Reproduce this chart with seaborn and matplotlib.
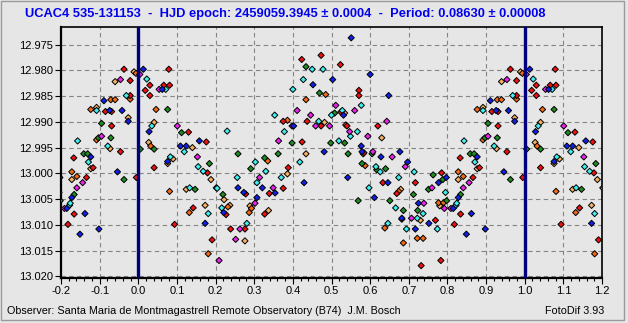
import matplotlib
matplotlib.use("Agg")
import matplotlib.pyplot as plt
import numpy as np
import pandas as pd
import seaborn as sns
from matplotlib import font_manager
from matplotlib.ticker import MultipleLocator, FormatStrFormatter
from matplotlib.patches import Rectangle

# ---- phased photometry, one series per observing night (phase 0..1, magnitude) ----
red_phase = [0.079, 0.030, 0.018, 0.030, 0.066, 0.081, 0.130, 0.176, 0.041, 0.995, 0.179, 0.142,
             0.227, 0.094, 0.239, 0.191, 0.423, 0.473, 0.375, 0.437, 0.473, 0.424, 0.388, 0.375,
             0.278, 0.339, 0.327, 0.276, 0.523, 0.571, 0.571, 0.524, 0.540, 0.620, 0.584, 0.633,
             0.717, 0.669, 0.732, 0.963, 0.979, 0.979, 0.915, 0.931, 0.931, 0.954, 0.833, 0.883,
             0.785, 0.866, 0.834, 0.769, 0.818, 0.783]
red_mag = [12.9798, 12.9829, 12.9839, 12.9849, 12.9829, 12.9829, 12.9920, 12.9939, 12.9989, 13.0008,
           12.9999, 13.0067, 13.0080, 13.0099, 13.0108, 13.0129, 12.9779, 12.9771, 12.9899, 12.9899,
           12.9908, 12.9939, 12.9989, 13.0029, 13.0040, 13.0039, 13.0079, 13.0108, 12.9789, 12.9839,
           12.9849, 12.9881, 12.9908, 12.9908, 12.9960, 13.0018, 13.0018, 13.0039, 13.0179, 12.9798,
           12.9820, 12.9849, 12.9880, 12.9880, 12.9908, 12.9958, 12.9970, 12.9989, 12.9999, 13.0008,
           13.0079, 13.0091, 13.0099, 13.0169]

cyan_phase = [0.022, 0.071, 0.035, 0.230, 0.119, 0.083, 0.155, 0.168, 0.202, 0.204, 0.133, 0.181,
              0.216, 0.450, 0.478, 0.427, 0.400, 0.353, 0.467, 0.378, 0.303, 0.418, 0.330, 0.256,
              0.370, 0.307, 0.281, 0.577, 0.500, 0.528, 0.567, 0.549, 0.519, 0.615, 0.626, 0.714,
              0.674, 0.597, 0.666, 0.737, 0.722, 0.646, 0.694, 0.969, 0.892, 0.843, 0.921, 0.871,
              0.795, 0.822, 0.824, 0.774]
cyan_mag = [12.9817, 12.9837, 12.9908, 12.9918, 12.9958, 12.9968, 12.9987, 12.9996, 13.0028, 13.0029,
            13.0028, 13.0078, 13.0067, 12.9798, 12.9798, 12.9818, 12.9837, 12.9887, 12.9899, 12.9919,
            12.9978, 12.9978, 12.9996, 13.0008, 13.0008, 13.0018, 13.0097, 12.9868, 12.9887, 12.9878,
            12.9919, 12.9928, 12.9937, 12.9987, 12.9997, 12.9997, 13.0008, 13.0028, 13.0067, 13.0078,
            13.0087, 13.0097, 13.0108, 12.9849, 12.9878, 12.9937, 12.9947, 12.9978, 13.0037, 13.0062,
            13.0058, 13.0108]

blue_phase = [0.013, 0.062, 0.028, 0.158, 0.109, 0.124, 0.076, 0.221, 0.173, 0.452, 0.402, 0.481,
              0.429, 0.258, 0.321, 0.273, 0.354, 0.307, 0.551, 0.600, 0.503, 0.648, 0.531, 0.577,
              0.579, 0.628, 0.677, 0.697, 0.542, 0.646, 0.611, 0.725, 0.682, 0.717, 0.911, 0.926,
              0.958, 0.974, 0.877, 0.946, 0.797, 0.777, 0.828, 0.815, 0.862, 0.752, 0.849, 0.898]
blue_mag = [12.9798, 12.9837, 12.9919, 12.9937, 12.9947, 12.9947, 12.9977, 13.0076, 13.0097, 12.9828,
            12.9908, 12.9958, 13.0018, 13.0028, 13.0028, 13.0037, 13.0038, 13.0047, 12.9737, 12.9808,
            12.9818, 12.9849, 12.9887, 12.9947, 12.9958, 12.9968, 12.9958, 12.9978, 13.0008, 13.0018,
            13.0047, 13.0058, 13.0087, 13.0108, 12.9859, 12.9878, 12.9878, 12.9899, 12.9968, 12.9997,
            13.0008, 13.0018, 13.0047, 13.0068, 13.0078, 13.0097, 13.0118, 13.0108]

green_phase = [0.076, 0.112, 0.005, 0.041, 0.184, 0.147, 0.219, 0.434, 0.469, 0.398, 0.258, 0.362,
               0.327, 0.291, 0.508, 0.498, 0.534, 0.543, 0.605, 0.579, 0.617, 0.640, 0.712, 0.569,
               0.651, 0.686, 0.723, 0.905, 0.897, 0.929, 0.859, 0.869, 0.963, 0.763, 0.788, 0.751,
               0.834, 0.798]
green_mag = [12.9876, 12.9921, 12.9953, 12.9953, 12.9981, 13.0031, 13.0041, 12.9793, 12.9844, 12.9941,
             12.9962, 12.9962, 12.9970, 12.9991, 12.9883, 12.9941, 12.9941, 12.9962, 12.9962, 12.9981,
             12.9993, 12.9991, 13.0041, 13.0053, 13.0053, 13.0072, 13.0072, 12.9903, 12.9931, 12.9931,
             12.9962, 12.9962, 13.0012, 13.0003, 13.0012, 13.0031, 13.0041, 13.0053]

magenta_phase = [0.004, 0.054, 0.101, 0.153, 0.209, 0.411, 0.446, 0.398, 0.459, 0.495, 0.363, 0.314,
                 0.349, 0.302, 0.263, 0.252, 0.511, 0.560, 0.547, 0.643, 0.594, 0.607, 0.657, 0.691,
                 0.739, 0.707, 0.954, 0.905, 0.856, 0.841, 0.760, 0.792, 0.809]
magenta_mag = [12.9808, 12.9837, 12.9908, 12.9968, 13.0169, 12.9878, 12.9887, 12.9908, 12.9908, 12.9908,
               12.9937, 13.0008, 13.0028, 13.0058, 13.0108, 13.0128, 12.9868, 12.9878, 12.9919, 12.9899,
               12.9928, 12.9958, 12.9968, 12.9987, 13.0058, 13.0087, 12.9818, 12.9928, 13.0018, 13.0028,
               13.0028, 13.0068, 13.0068]

orange_phase = [0.994, 0.046, 0.032, 0.081, 0.132, 0.232, 0.181, 0.485, 0.434, 0.386, 0.335, 0.293,
                0.287, 0.537, 0.587, 0.674, 0.638, 0.686, 0.722, 0.737, 0.979, 0.929, 0.940, 0.877,
                0.892, 0.828, 0.841, 0.777, 0.790]
orange_mag = [12.9806, 12.9876, 12.9947, 13.0035, 13.0076, 13.0065, 13.0156, 12.9847, 12.9857, 12.9897,
              12.9976, 13.0068, 13.0076, 12.9906, 12.9985, 13.0035, 13.0106, 13.0135, 13.0126, 13.0126,
              12.9856, 12.9857, 12.9857, 12.9876, 12.9935, 12.9997, 13.0006, 13.0057, 13.0057]

peach_phase = [0.041, 0.027, 0.140, 0.090, 0.076, 0.188, 0.124, 0.222, 0.173, 0.237, 0.482, 0.434,
               0.386, 0.289, 0.337, 0.276, 0.534, 0.630, 0.582, 0.679, 0.682, 0.730, 0.989, 0.940,
               0.892, 0.974, 0.927, 0.877, 0.828, 0.780]
peach_mag = [12.9901, 12.9940, 12.9950, 12.9972, 12.9981, 13.0012, 13.0031, 13.0051, 13.0062, 13.0062,
             12.9901, 12.9962, 13.0001, 13.0063, 13.0072, 13.0131, 12.9883, 12.9931, 12.9962, 13.0031,
             13.0089, 13.0091, 12.9803, 12.9822, 12.9872, 12.9892, 12.9952, 12.9991, 13.0012, 13.0063]

series = {
    "peach": (peach_phase, peach_mag),
    "orange": (orange_phase, orange_mag),
    "red": (red_phase, red_mag),
    "green": (green_phase, green_mag),
    "cyan": (cyan_phase, cyan_mag),
    "magenta": (magenta_phase, magenta_mag),
    "blue": (blue_phase, blue_mag),
}
palette = {
    "peach": "#f8b060",
    "orange": "#f46a14",
    "red": "#ee1111",
    "green": "#1e8c22",
    "cyan": "#3ff0f0",
    "magenta": "#ee22ee",
    "blue": "#1020ea",
}

title = "UCAC4 535-131153  -  HJD epoch: 2459059.3945 \u00b1 0.0004  -  Period: 0.08630 \u00b1 0.00008"
footer_left = "Observer: Santa Maria de Montmagastrell Remote Observatory (B74)  J.M. Bosch"
footer_right = "FotoDif 3.93"
x_ticks = np.round(np.arange(-0.2, 1.2001, 0.1), 1)
y_ticks = np.round(np.arange(12.975, 13.0201, 0.005), 3)

# long table, each night repeated one cycle either side of the 0..1 phase window
rows = []
for night, (ph, mg) in series.items():
    for shift in (-1.0, 0.0, 1.0):
        for p, m in zip(ph, mg):
            rows.append((night, p + shift, m))
df = pd.DataFrame(rows, columns=["night", "phase", "mag"])
df = df[(df.phase >= -0.21) & (df.phase <= 1.21)]

sns.set_theme(style="white")
installed = {f.name for f in font_manager.fontManager.ttflist}
base_font = "Liberation Sans" if "Liberation Sans" in installed else "DejaVu Sans"
narrow_font = "Liberation Sans Narrow" if "Liberation Sans Narrow" in installed else base_font
plt.rcParams["font.family"] = [base_font, "DejaVu Sans"]

W, H = 628, 323
bg = "#e6e6e6"
fig = plt.figure(figsize=(W / 100, H / 100), dpi=100, facecolor=bg)
ax = fig.add_axes([61 / W, 1 - 278 / H, (602 - 61) / W, (278 - 27) / H], facecolor=bg)

ax.grid(True, which="major", linestyle=(0, (4, 3)), color="#858585", linewidth=0.8, zorder=0)
ax.set_axisbelow(True)

sns.scatterplot(data=df, x="phase", y="mag", hue="night", palette=palette,
                hue_order=list(series.keys()), marker="D", s=10, edgecolor="black",
                linewidth=0.7, legend=False, ax=ax, zorder=3)

for x0 in (0.0, 1.0):
    ax.axvline(x0, color="#00007f", linewidth=2.4, zorder=5)

ax.set_xlim(-0.2, 1.2)
ax.set_ylim(13.0203, 12.9716)
ax.set_xticks(x_ticks)
ax.set_yticks(y_ticks)
ax.xaxis.set_major_formatter(FormatStrFormatter("%.1f"))
ax.yaxis.set_major_formatter(FormatStrFormatter("%.3f"))
ax.xaxis.set_minor_locator(MultipleLocator(0.02))
ax.tick_params(axis="both", which="major", direction="out", length=4, width=0.8,
               color="black", labelsize=8, labelcolor="black", pad=2,
               bottom=True, left=True)
ax.tick_params(axis="x", which="minor", direction="out", length=2, width=0.8,
               color="black", bottom=True)
ax.set_xlabel("")
ax.set_ylabel("")
for side, sp in ax.spines.items():
    sp.set_color("black")
    sp.set_linewidth(1.6 if side in ("left", "bottom") else 1.2)
    sp.set_visible(True)

# title, fitted to its width on the canvas
t = fig.text(25 / W, 1 - 14 / H, title, color="#0000ee", fontweight="bold",
             family=[narrow_font, "DejaVu Sans"], fontsize=10, ha="left", va="center")
fl = fig.text(7 / W, 1 - 311 / H, footer_left, fontsize=8, color="black", ha="left", va="center")
fr = fig.text(604 / W, 1 - 311 / H, footer_right, fontsize=8, color="black", ha="right", va="center")
fig.canvas.draw()
t.set_fontsize(10 * 521 / t.get_window_extent().width)
fl.set_fontsize(8 * 391 / fl.get_window_extent().width)
fr.set_fontsize(fl.get_fontsize())

# window frame around the whole panel
fig.patches.append(Rectangle((0.5 / W, 1 - 320 / H), 623.5 / W, 319.5 / H, transform=fig.transFigure,
                             fill=False, edgecolor="#9a9a9a", linewidth=1))

fig.savefig("out.png", dpi=100, facecolor=bg)
